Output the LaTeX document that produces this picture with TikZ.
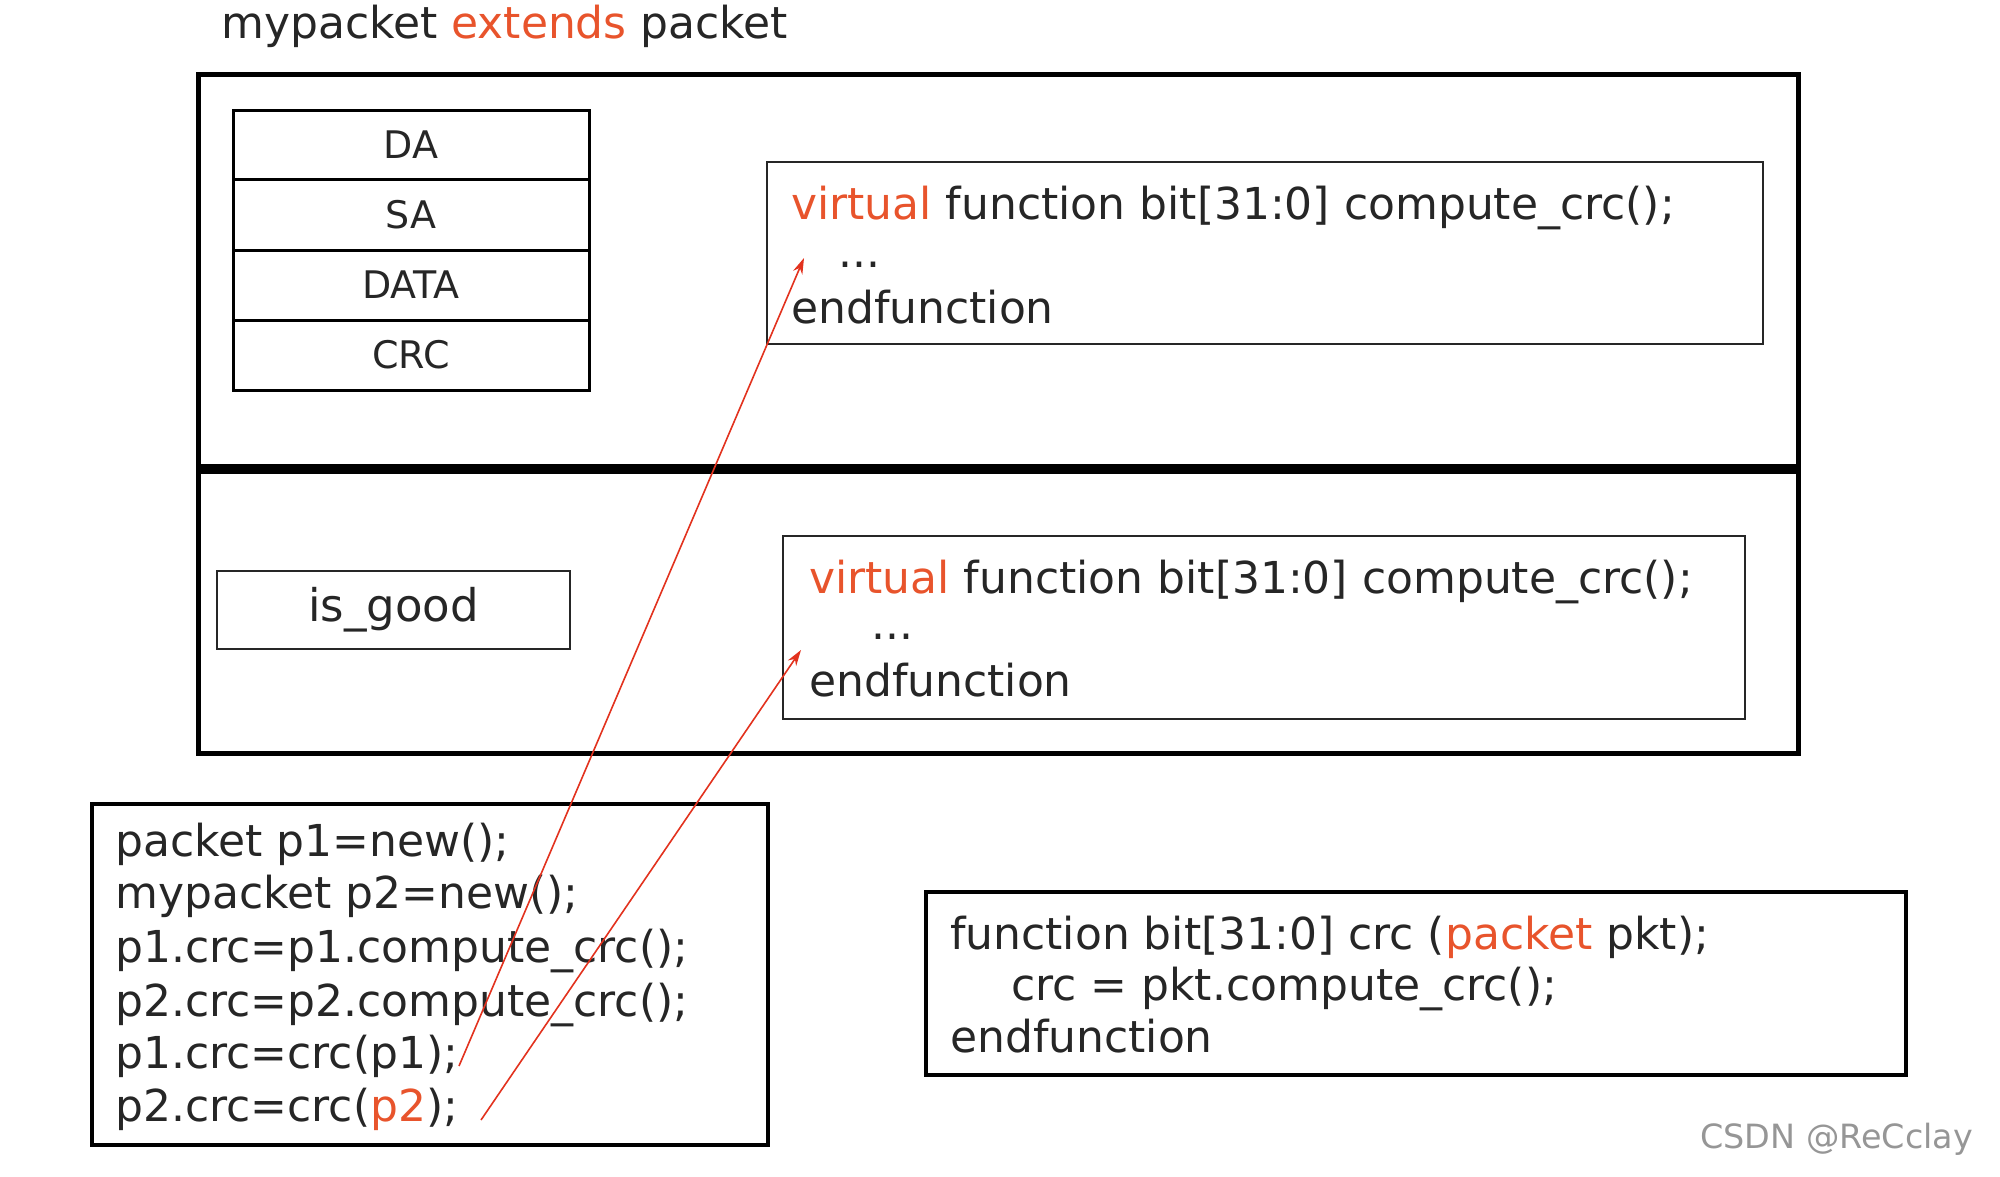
\documentclass[tikz,border=0pt]{standalone}
\usepackage{fontspec}
\setmainfont{DejaVu Sans}
\usetikzlibrary{arrows.meta}
\definecolor{kw}{RGB}{232,84,44}
\definecolor{arr}{RGB}{226,50,30}
\definecolor{wm}{RGB}{150,150,150}
\tikzset{
  x=1pt,y=-1pt,
  outer/.style={draw=black,line width=5pt},
  inner/.style={draw=black!85,line width=2.6pt},
  field/.style={draw=black,line width=3pt},
  code/.style={anchor=base west,inner sep=0pt,font=\fontsize{44}{50}\selectfont,text=black!85},
  small/.style={inner sep=0pt,font=\fontsize{38}{42}\selectfont,text=black!85},
  callarrow/.style={draw=arr,line width=1.6pt,-{Stealth[length=16pt,width=10pt]}},
}
\begin{document}
\begin{tikzpicture}
\useasboundingbox (0,0) rectangle (2000,1176);
% title
\node[code] (title) at (221,38) {mypacket \textcolor{kw}{extends} packet};
% outer boxes
\draw[outer] (198,74) rectangle (1798,466);
\draw[outer] (198,471) rectangle (1798,753);
% field stack
\draw[field] (233,110) rectangle (589,390);
\foreach \yy in {179,250,320} \draw[field] (233,\yy) -- (589,\yy);
\node[small] (da) at (411,144.5) {DA};
\node[small] (sa) at (411,214.5) {SA};
\node[small] (data) at (411,285) {DATA};
\node[small] (crcf) at (411,355) {CRC};
% upper code box
\draw[inner] (767,162) rectangle (1763,344);
\node[code] (u1) at (791,219) {\textcolor{kw}{virtual} function bit[31:0] compute\_crc();};
\node[code] (u2) at (838,267) {...};
\node[code] (u3) at (791,323) {endfunction};
% is_good
\draw[inner] (217,571) rectangle (570,649);
\node[small,font=\fontsize{45}{50}\selectfont] (good) at (393.5,610) {is\_good};
% lower code box
\draw[inner] (783,536) rectangle (1745,719);
\node[code] (v1) at (809,593) {\textcolor{kw}{virtual} function bit[31:0] compute\_crc();};
\node[code] (v2) at (871,639) {...};
\node[code] (v3) at (809,696) {endfunction};
% bottom-left code
\draw[outer,line width=4pt] (92,804) rectangle (768,1145);
\node[code] (l1) at (115,856) {packet p1=new();};
\node[code] (l2) at (115,908) {mypacket p2=new();};
\node[code] (l3) at (115,962) {p1.crc=p1.compute\_crc();};
\node[code] (l4) at (115,1016) {p2.crc=p2.compute\_crc();};
\node[code] (l5) at (115,1068) {p1.crc=crc(p1);};
\node[code] (l6) at (115,1121) {p2.crc=crc(\textcolor{kw}{p2});};
% bottom-right code
\draw[outer,line width=4pt] (926,892) rectangle (1906,1075);
\node[code] (r1) at (950,949) {function bit[31:0] crc (\textcolor{kw}{packet} pkt);};
\node[code] (r2) at (1011,1000) {crc = pkt.compute\_crc();};
\node[code] (r3) at (950,1052) {endfunction};
% arrows
\coordinate (t1) at (459,1066);
\coordinate (h1) at (804,258);
\coordinate (t2) at (481,1120);
\coordinate (h2) at (801,650);
\draw[callarrow] (t1) -- (h1);
\draw[callarrow] (t2) -- (h2);
% watermark
\node[anchor=base west,inner sep=0pt,font=\fontsize{33.4}{40}\selectfont,text=wm] (wmk) at (1700,1148) {CSDN @ReCclay};
\end{tikzpicture}
\end{document}
